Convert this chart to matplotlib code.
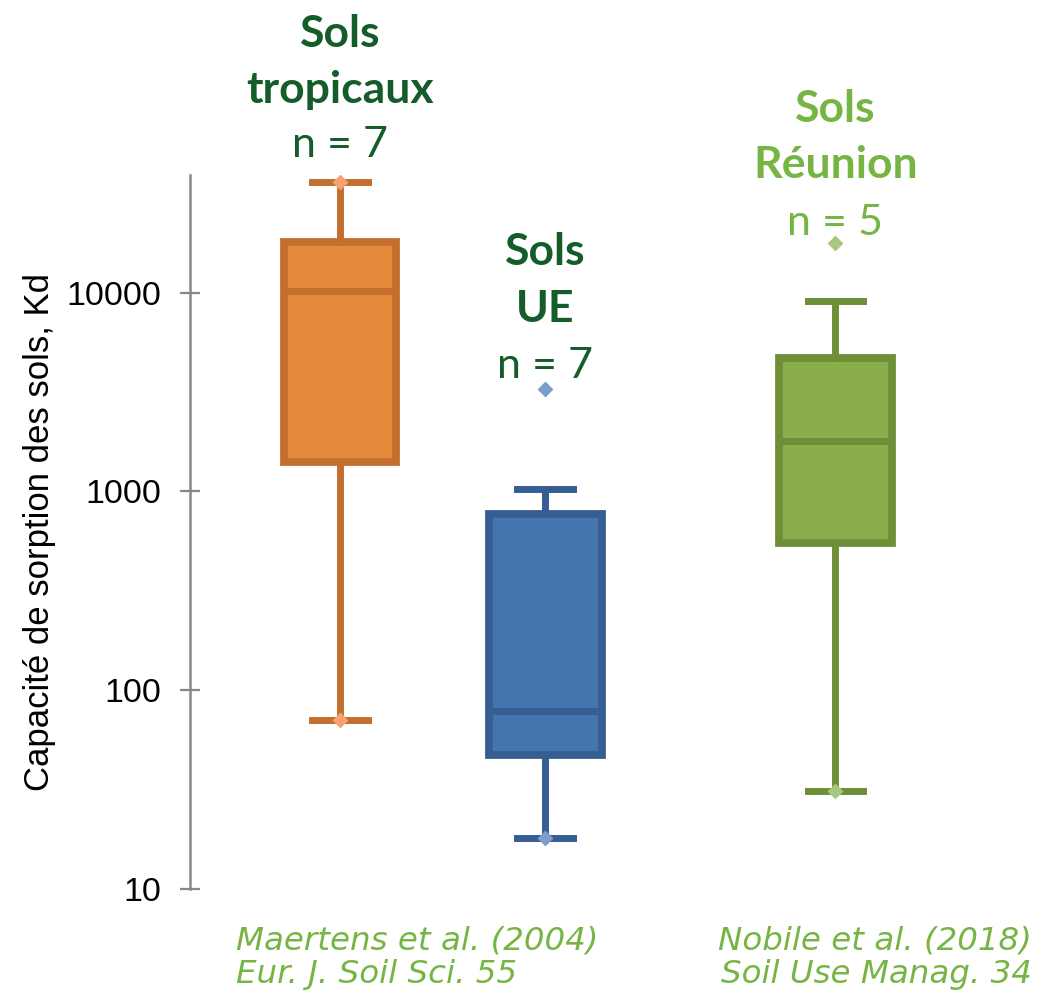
import matplotlib.pyplot as plt

# valeurs (Kd, échelle log)
groupes = [["Sols", "tropicaux"], ["Sols", "UE"], ["Sols", "Réunion"]]
effectifs = ["n = 7", "n = 7", "n = 5"]
q1 = [1410, 47, 551]
mediane = [10200, 79, 1800]
q3 = [18000, 771, 4700]
whis_bas = [71, 18, 31]
whis_haut = [36100, 1030, 9100]
# points individuels visibles (min / max / valeurs isolées)
points = [[71, 36100], [18, 3280], [31, 17800]]

ticks_y = [10, 100, 1000, 10000]
citations = [["Maertens et al. (2004)", "Eur. J. Soil Sci. 55"],
             ["Nobile et al. (2018)", "Soil Use Manag. 34"]]

# couleurs
remplissage = ["#E4883A", "#4475AE", "#8AAE4C"]
contour = ["#C46F2E", "#365E92", "#6E8F37"]
marqueur = ["#F5A370", "#7C9DCB", "#A9C77E"]
titre_col = ["#145C29", "#145C29", "#76B544"]
vert_clair = "#76B544"

positions = [1, 2, 3.415]
H = 990.0  # hauteur en pixels, pour placer les textes

fig = plt.figure(figsize=(10.38, 9.9), dpi=100)
ax = fig.add_axes([0.183, 0.102, 0.771, 0.721])

for i in range(3):
    st = {'med': mediane[i], 'q1': q1[i], 'q3': q3[i],
          'whislo': whis_bas[i], 'whishi': whis_haut[i], 'fliers': []}
    ax.bxp([st], positions=[positions[i]], widths=0.55, capwidths=0.27,
           showfliers=False, patch_artist=True,
           boxprops=dict(facecolor=remplissage[i], edgecolor=contour[i], linewidth=5.6),
           whiskerprops=dict(color=contour[i], linewidth=5.0),
           capprops=dict(color=contour[i], linewidth=5.0),
           medianprops=dict(color=contour[i], linewidth=5.0))
    ax.scatter([positions[i]] * len(points[i]), points[i], marker='D', s=65,
               color=marqueur[i], zorder=5, linewidths=0)

ax.set_yscale('log')
ax.set_ylim(10, 39000)
ax.set_xlim(0.268, 4.17)
ax.set_yticks(ticks_y)
ax.set_yticklabels([str(t) for t in ticks_y])
ax.minorticks_off()
ax.set_xticks([])

for s in ['top', 'right', 'bottom']:
    ax.spines[s].set_visible(False)
ax.spines['left'].set_color('#888888')
ax.spines['left'].set_linewidth(1.8)
ax.tick_params(axis='y', direction='inout', length=14, width=1.6, color='#888888',
               pad=14, labelsize=24.5)
for lab in ax.get_yticklabels():
    lab.set_family('Liberation Sans')

ax.set_ylabel("Capacité de sorption des sols, Kd", family='Liberation Sans',
              fontsize=25, labelpad=7)

# titres au-dessus des boîtes (lignes de base en pixels)
bases = [[47, 103, 157], [265, 322, 378], [122, 178, 235]]
for i in range(3):
    xf = (positions[i] - 0.268) / (4.17 - 0.268) * 0.771 + 0.183
    for k in range(2):
        fig.text(xf, 1 - bases[i][k] / H, groupes[i][k], ha='center', va='baseline',
                 fontsize=32, fontweight='bold', family='Lato', color=titre_col[i])
    fig.text(xf, 1 - bases[i][2] / H, effectifs[i], ha='center', va='baseline',
             fontsize=31, family='Lato', color=titre_col[i])

# références
for k, yb in enumerate([950, 983]):
    fig.text(0.2274, 1 - yb / H, citations[0][k], ha='left', va='baseline',
             fontsize=23.4, style='italic', family='DejaVu Sans', color=vert_clair)
    fig.text(0.994, 1 - yb / H, citations[1][k], ha='right', va='baseline',
             fontsize=23.4, style='italic', family='DejaVu Sans', color=vert_clair)

fig.savefig('out.png', dpi=100)
